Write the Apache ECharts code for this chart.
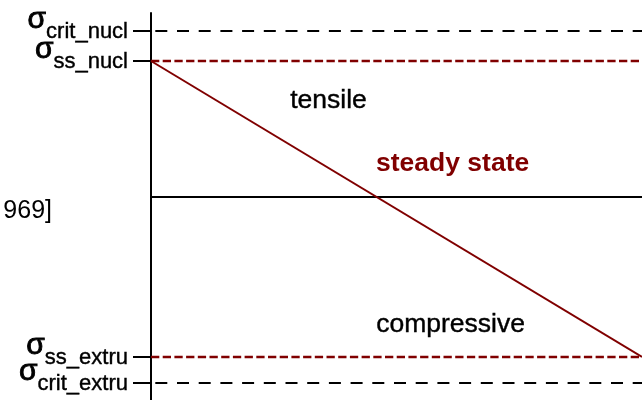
<!DOCTYPE html>
<html>
<head>
<meta charset="utf-8">
<script src="https://cdn.jsdelivr.net/npm/echarts@6/dist/echarts.min.js"></script>
<style>
  html, body { margin: 0; padding: 0; background: #fff; }
  #chart { width: 642px; height: 400px; }
</style>
</head>
<body>
<div id="chart"></div>
<script>
// Stress levels (arbitrary units, zero = no stress)
const criticalNames = ['crit_extru', 'crit_nucl'];
const criticalValues = [-186, 166];
const steadyNames = ['ss_extru', 'ss_nucl'];
const steadyValues = [-160, 136];

// Steady-state stress profile across the section (position 0 → 1)
const profilePositions = [0, 1];
const profileStress = [136, -160];

// Region annotations
const regionTexts = ['tensile', 'steady state', 'compressive'];

const yMin = -203, yMax = 184;
const FONT = 'Liberation Sans, Arial, sans-serif';
const DARK_RED = '#800000';

const chart = echarts.init(document.getElementById('chart'), null, { renderer: 'canvas' });

const labelFor = {};
criticalValues.forEach((v, i) => { labelFor[v] = criticalNames[i]; });
steadyValues.forEach((v, i) => { labelFor[v] = steadyNames[i]; });

const sigmaRich = {
  s: { fontFamily: FONT, fontSize: 30, lineHeight: 30, color: '#000',
       textBorderColor: '#000', textBorderWidth: 0.9, padding: [4, 0, 26, 0] },
  b: { fontFamily: FONT, fontSize: 22, lineHeight: 22, color: '#000',
       textBorderColor: '#000', textBorderWidth: 0.4, padding: [20, 0, 18, 0] }
};

// One axis per pair of levels so their labels never crowd each other
function levelAxis(values, showLine) {
  return {
    type: 'value', min: yMin, max: yMax, position: 'left',
    axisLine: { show: showLine, onZero: false, lineStyle: { color: '#000', width: 2 } },
    splitLine: { show: false },
    axisTick: { show: true, customValues: values, length: 18, lineStyle: { color: '#000', width: 2 } },
    axisLabel: {
      show: true, customValues: values, margin: 23, hideOverlap: false,
      formatter: v => '{s|σ}{b|' + (labelFor[v] || '') + '}',
      rich: sigmaRich
    }
  };
}

function levelSeries(values, names, style) {
  return values.map((v, i) => ({
    type: 'line', name: names[i],
    data: [[0, v], [1, v]],
    symbol: 'none', silent: true,
    lineStyle: style
  }));
}

const option = {
  animation: false,
  backgroundColor: '#fff',
  grid: { left: 151, right: 0, top: 13, bottom: 0, containLabel: false, outerBoundsMode: 'none' },
  xAxis: { type: 'value', min: 0, max: 1, show: false },
  yAxis: [levelAxis(criticalValues, true), levelAxis(steadyValues, false)],
  series: [
    ...levelSeries(criticalValues, criticalNames, { color: '#000', width: 2, type: [12, 9.7], dashOffset: 17.4 }),
    ...levelSeries(steadyValues, steadyNames, { color: DARK_RED, width: 2.4, type: [8.3, 3.4], dashOffset: 0 }),
    {
      type: 'line', name: 'zero',
      data: [[0, 0], [1, 0]],
      symbol: 'none', silent: true,
      lineStyle: { color: '#000', width: 2 }
    },
    {
      type: 'line', name: 'steady state',
      data: profilePositions.map((p, i) => [p, profileStress[i]]),
      symbol: 'none', silent: true,
      lineStyle: { color: DARK_RED, width: 2 }
    }
  ],
  graphic: [
    { type: 'text', left: 290, top: 87, style: { text: regionTexts[0], font: '26.5px ' + FONT, fill: '#000', stroke: '#000', lineWidth: 0.4 } },
    { type: 'text', left: 376, top: 150, style: { text: regionTexts[1], font: 'bold 26.5px ' + FONT, fill: DARK_RED } },
    { type: 'text', left: 376, top: 311, style: { text: regionTexts[2], font: '26.5px ' + FONT, fill: '#000', stroke: '#000', lineWidth: 0.4 } },
    { type: 'text', right: 590, top: 199, style: { text: '969]', font: '25px ' + FONT, fill: '#000', textAlign: 'right' } }
  ]
};

chart.setOption(option);
</script>
</body>
</html>
